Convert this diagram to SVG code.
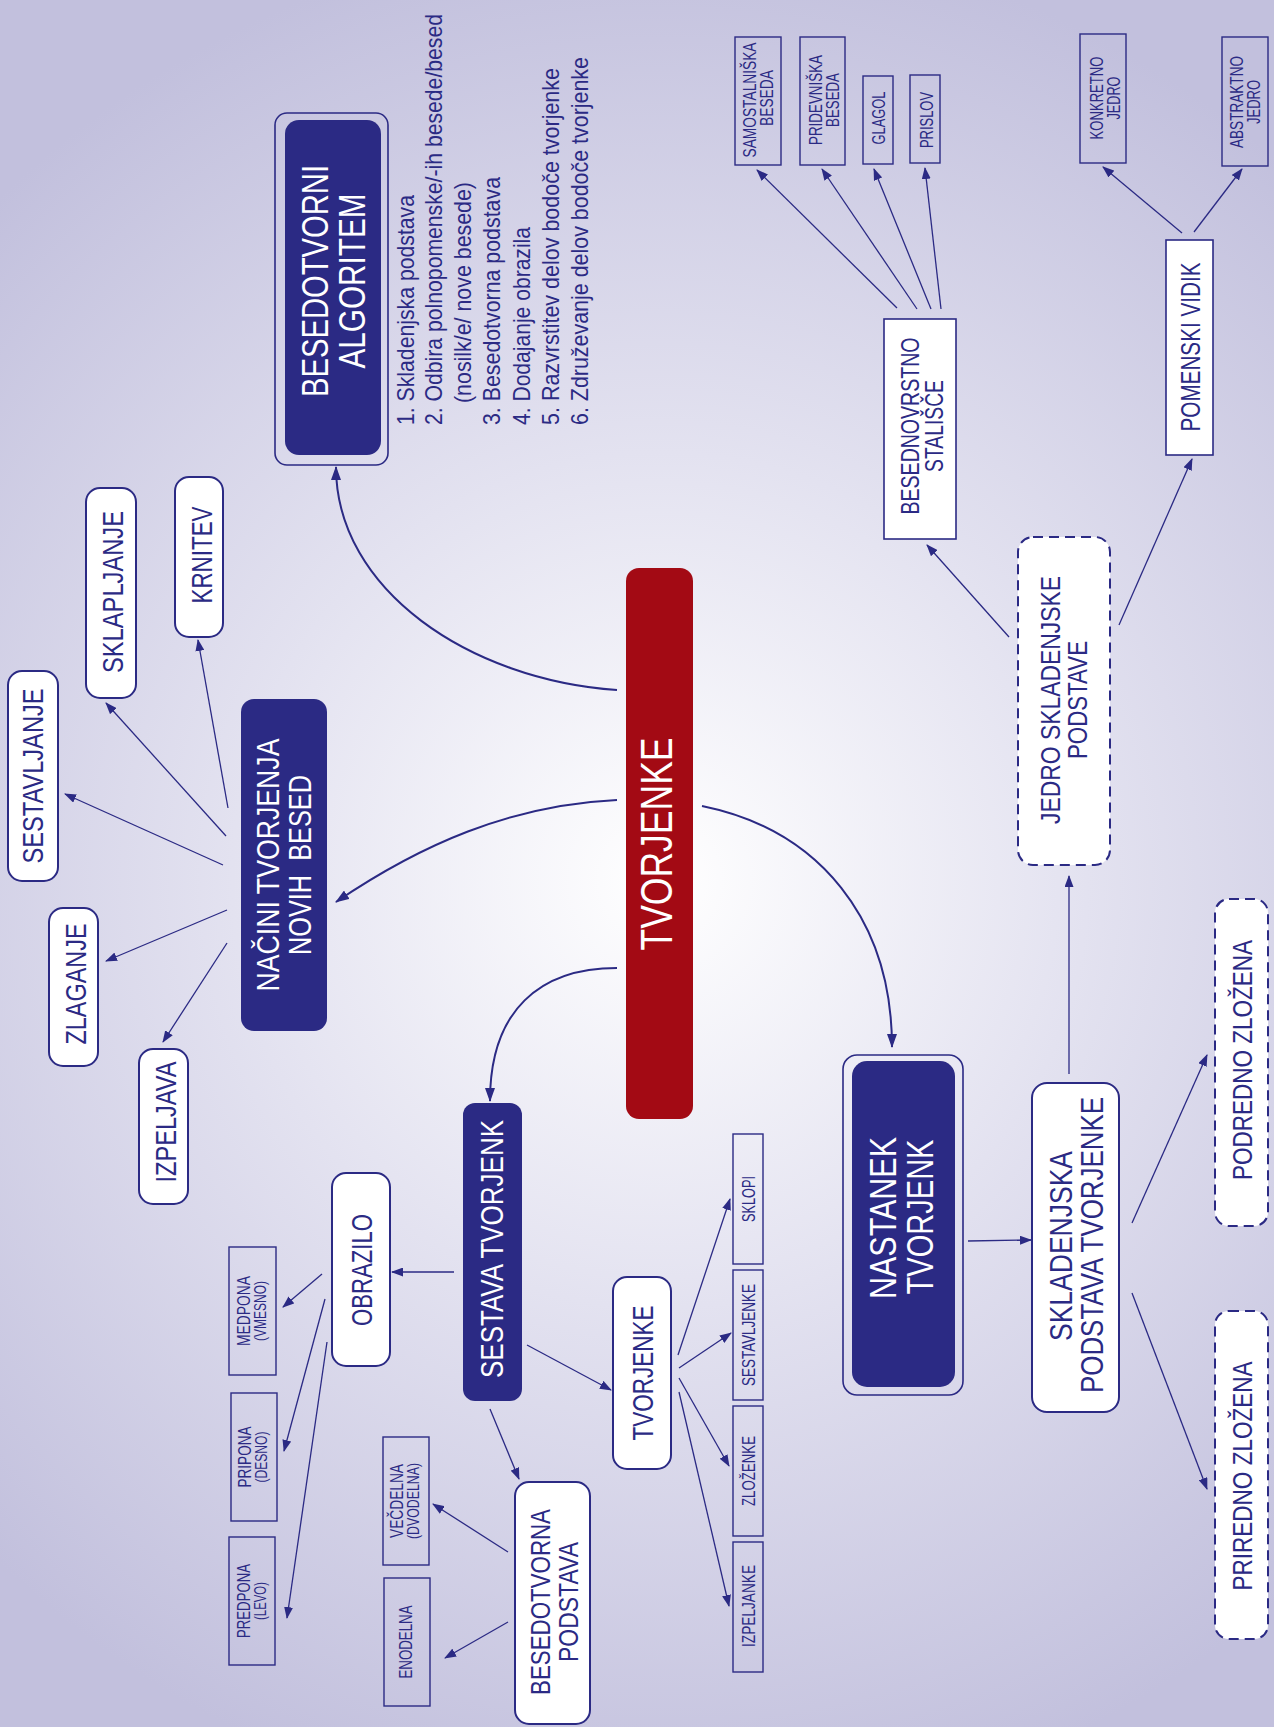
<svg xmlns="http://www.w3.org/2000/svg" width="1274" height="1727" viewBox="0 0 1274 1727">
<defs>
<radialGradient id="bg" gradientUnits="userSpaceOnUse" cx="660" cy="880" r="950">
<stop offset="0" stop-color="#ffffff"/>
<stop offset="0.45" stop-color="#e3e2f0"/>
<stop offset="1" stop-color="#c2c0dd"/>
</radialGradient>
<marker id="ah" markerUnits="userSpaceOnUse" markerWidth="14" markerHeight="10" refX="13" refY="5" orient="auto" viewBox="0 0 14 10">
<path d="M0,0 L14,5 L0,10 z" fill="#2b2a84"/>
</marker>
<marker id="as" markerUnits="userSpaceOnUse" markerWidth="12" markerHeight="9" refX="11" refY="4.5" orient="auto" viewBox="0 0 12 9">
<path d="M0,0 L12,4.5 L0,9 z" fill="#2b2a84"/>
</marker>
<style>
text{font-family:"Liberation Sans",Arial,sans-serif;fill:#2b2a84;text-anchor:middle}
.w{fill:#ffffff}
.ls text{text-anchor:start}
.navy{fill:#2b2a84}
.wb{fill:#ffffff;stroke:#2b2a84;stroke-width:2}
.sb{fill:none;stroke:#2b2a84;stroke-width:1.4}
.db{fill:#ffffff;stroke:#2b2a84;stroke-width:2;stroke-dasharray:10 6}
.ol{fill:none;stroke:#2b2a84;stroke-width:1.6}
.cm{fill:none;stroke:#2b2a84;stroke-width:2;marker-end:url(#ah)}
.cs{fill:none;stroke:#2b2a84;stroke-width:1.3;marker-end:url(#as)}
</style>
</defs>
<rect x="0" y="0" width="1274" height="1727" fill="url(#bg)"/>

<g id="connectors">
<path class="cm" d="M617,690 C470,680 336,590 336,467"/>
<path class="cm" d="M617,800 C510,805 420,845 336,902"/>
<path class="cm" d="M617,968 C540,968 490,1010 490,1101"/>
<path class="cm" d="M702,806 C820,830 892,920 892,1047"/>
<path class="cs" d="M228,808 L198,640"/>
<path class="cs" d="M226,836 L106,703"/>
<path class="cs" d="M223,865 L65,794"/>
<path class="cs" d="M227,910 L106,961"/>
<path class="cs" d="M227,943 L163,1042"/>
<path class="cs" d="M454,1272 L392,1272"/>
<path class="cs" d="M527,1345 L611,1390"/>
<path class="cs" d="M490,1409 L519,1479"/>
<path class="cs" d="M322,1274 L283,1307"/>
<path class="cs" d="M325,1299 L284,1451"/>
<path class="cs" d="M327,1342 L287,1618"/>
<path class="cs" d="M508,1552 L433,1504"/>
<path class="cs" d="M508,1622 L445,1658"/>
<path class="cs" d="M678,1355 L730,1199"/>
<path class="cs" d="M679,1368 L731,1333"/>
<path class="cs" d="M679,1378 L729,1466"/>
<path class="cs" d="M679,1392 L729,1606"/>
<path class="cs" d="M968,1241 L1031,1240"/>
<path class="cs" d="M1069,1074 L1069,876"/>
<path class="cs" d="M1132,1223 L1207,1055"/>
<path class="cs" d="M1132,1293 L1207,1489"/>
<path class="cs" d="M1009,637 L927,545"/>
<path class="cs" d="M1119,625 L1192,459"/>
<path class="cs" d="M897,308 L757,170"/>
<path class="cs" d="M917,309 L822,169"/>
<path class="cs" d="M931,309 L874,169"/>
<path class="cs" d="M941,309 L925,168"/>
<path class="cs" d="M1182,233 L1103,167"/>
<path class="cs" d="M1194,232 L1242,169"/>
</g>

<g id="n-tvorjenke">
<rect x="626" y="568" width="67" height="551" rx="13" fill="#a30a14"/>
<text class="w" transform="translate(672,844) rotate(-90)" font-size="45" textLength="213" lengthAdjust="spacingAndGlyphs">TVORJENKE</text>
</g>

<g id="n-algoritem">
<rect class="ol" x="275" y="113" width="113" height="352" rx="12"/>
<rect class="navy" x="285" y="120" width="96" height="335" rx="14"/>
<text class="w" transform="translate(328,281) rotate(-90)" font-size="37" textLength="232" lengthAdjust="spacingAndGlyphs">BESEDOTVORNI</text>
<text class="w" transform="translate(365,281) rotate(-90)" font-size="37" textLength="175" lengthAdjust="spacingAndGlyphs">ALGORITEM</text>
</g>

<g id="n-algoritem-list" class="ls">
<text transform="translate(414,425) rotate(-90)" font-size="24" textLength="230" lengthAdjust="spacingAndGlyphs">1. Skladenjska podstava</text>
<text transform="translate(442,425) rotate(-90)" font-size="24" textLength="411" lengthAdjust="spacingAndGlyphs">2. Odbira polnopomenske/-ih besede/besed</text>
<text transform="translate(471,403) rotate(-90)" font-size="24" textLength="221" lengthAdjust="spacingAndGlyphs">(nosilk/e/ nove besede)</text>
<text transform="translate(500,425) rotate(-90)" font-size="24" textLength="248" lengthAdjust="spacingAndGlyphs">3. Besedotvorna podstava</text>
<text transform="translate(530,425) rotate(-90)" font-size="24" textLength="198" lengthAdjust="spacingAndGlyphs">4. Dodajanje obrazila</text>
<text transform="translate(559,425) rotate(-90)" font-size="24" textLength="357" lengthAdjust="spacingAndGlyphs">5. Razvrstitev delov bodoče tvorjenke</text>
<text transform="translate(588,425) rotate(-90)" font-size="24" textLength="368" lengthAdjust="spacingAndGlyphs">6. Združevanje delov bodoče tvorjenke</text>
</g>

<g id="n-nacini">
<rect class="navy" x="241" y="699" width="86" height="332" rx="13"/>
<text class="w" transform="translate(279,865) rotate(-90)" font-size="32" textLength="253" lengthAdjust="spacingAndGlyphs">NAČINI TVORJENJA</text>
<text class="w" transform="translate(311,865) rotate(-90)" font-size="32" textLength="180" lengthAdjust="spacingAndGlyphs" xml:space="preserve">NOVIH  BESED</text>
</g>

<g id="n-krnitev">
<rect class="wb" x="175" y="477" width="48" height="160" rx="14"/>
<text transform="translate(212,555) rotate(-90)" font-size="29" textLength="97" lengthAdjust="spacingAndGlyphs">KRNITEV</text>
</g>
<g id="n-sklapljanje">
<rect class="wb" x="86" y="488" width="50" height="210" rx="14"/>
<text transform="translate(123,592) rotate(-90)" font-size="29" textLength="162" lengthAdjust="spacingAndGlyphs">SKLAPLJANJE</text>
</g>
<g id="n-sestavljanje">
<rect class="wb" x="8" y="671" width="50" height="210" rx="14"/>
<text transform="translate(43,776) rotate(-90)" font-size="29" textLength="175" lengthAdjust="spacingAndGlyphs">SESTAVLJANJE</text>
</g>
<g id="n-zlaganje">
<rect class="wb" x="49" y="908" width="49" height="158" rx="14"/>
<text transform="translate(86,984) rotate(-90)" font-size="29" textLength="121" lengthAdjust="spacingAndGlyphs">ZLAGANJE</text>
</g>
<g id="n-izpeljava">
<rect class="wb" x="139" y="1049" width="49" height="155" rx="14"/>
<text transform="translate(176,1122) rotate(-90)" font-size="29" textLength="121" lengthAdjust="spacingAndGlyphs">IZPELJAVA</text>
</g>

<g id="n-sestava">
<rect class="navy" x="463" y="1103" width="59" height="298" rx="12"/>
<text class="w" transform="translate(503,1249) rotate(-90)" font-size="32" textLength="258" lengthAdjust="spacingAndGlyphs">SESTAVA TVORJENK</text>
</g>

<g id="n-obrazilo">
<rect class="wb" x="332" y="1173" width="58" height="193" rx="14"/>
<text transform="translate(372,1270) rotate(-90)" font-size="30" textLength="112" lengthAdjust="spacingAndGlyphs">OBRAZILO</text>
</g>
<g id="n-medpona">
<rect class="sb" x="229" y="1247" width="47" height="128"/>
<text transform="translate(250,1311) rotate(-90)" font-size="18" textLength="70" lengthAdjust="spacingAndGlyphs">MEDPONA</text>
<text transform="translate(266,1311) rotate(-90)" font-size="17" textLength="60" lengthAdjust="spacingAndGlyphs">(VMESNO)</text>
</g>
<g id="n-pripona">
<rect class="sb" x="231" y="1393" width="46" height="128"/>
<text transform="translate(251,1457) rotate(-90)" font-size="18" textLength="61" lengthAdjust="spacingAndGlyphs">PRIPONA</text>
<text transform="translate(267,1457) rotate(-90)" font-size="17" textLength="51" lengthAdjust="spacingAndGlyphs">(DESNO)</text>
</g>
<g id="n-predpona">
<rect class="sb" x="229" y="1537" width="46" height="128"/>
<text transform="translate(250,1601) rotate(-90)" font-size="18" textLength="74" lengthAdjust="spacingAndGlyphs">PREDPONA</text>
<text transform="translate(266,1601) rotate(-90)" font-size="17" textLength="38" lengthAdjust="spacingAndGlyphs">(LEVO)</text>
</g>

<g id="n-besedotvorna">
<rect class="wb" x="515" y="1482" width="75" height="242" rx="14"/>
<text transform="translate(550,1602) rotate(-90)" font-size="28" textLength="186" lengthAdjust="spacingAndGlyphs">BESEDOTVORNA</text>
<text transform="translate(578,1602) rotate(-90)" font-size="28" textLength="120" lengthAdjust="spacingAndGlyphs">PODSTAVA</text>
</g>
<g id="n-vecdelna">
<rect class="sb" x="383" y="1437" width="46" height="128"/>
<text transform="translate(403,1501) rotate(-90)" font-size="18" textLength="74" lengthAdjust="spacingAndGlyphs">VEČDELNA</text>
<text transform="translate(419,1501) rotate(-90)" font-size="17" textLength="76" lengthAdjust="spacingAndGlyphs">(DVODELNA)</text>
</g>
<g id="n-enodelna">
<rect class="sb" x="384" y="1578" width="46" height="128"/>
<text transform="translate(412,1642) rotate(-90)" font-size="18" textLength="73" lengthAdjust="spacingAndGlyphs">ENODELNA</text>
</g>

<g id="n-tvorjenke2">
<rect class="wb" x="613" y="1277" width="58" height="192" rx="14"/>
<text transform="translate(653,1373) rotate(-90)" font-size="29" textLength="135" lengthAdjust="spacingAndGlyphs">TVORJENKE</text>
</g>
<g id="n-sklopi">
<rect class="sb" x="733" y="1134" width="30" height="130"/>
<text transform="translate(755,1199) rotate(-90)" font-size="18" textLength="46" lengthAdjust="spacingAndGlyphs">SKLOPI</text>
</g>
<g id="n-sestavljenke">
<rect class="sb" x="733" y="1270" width="30" height="130"/>
<text transform="translate(755,1335) rotate(-90)" font-size="18" textLength="102" lengthAdjust="spacingAndGlyphs">SESTAVLJENKE</text>
</g>
<g id="n-zlozenke">
<rect class="sb" x="733" y="1406" width="30" height="130"/>
<text transform="translate(755,1471) rotate(-90)" font-size="18" textLength="70" lengthAdjust="spacingAndGlyphs">ZLOŽENKE</text>
</g>
<g id="n-izpeljanke">
<rect class="sb" x="733" y="1542" width="30" height="130"/>
<text transform="translate(755,1606) rotate(-90)" font-size="18" textLength="82" lengthAdjust="spacingAndGlyphs">IZPELJANKE</text>
</g>

<g id="n-nastanek">
<rect class="ol" x="843" y="1055" width="120" height="340" rx="14"/>
<rect class="navy" x="852" y="1061" width="103" height="326" rx="15"/>
<text class="w" transform="translate(896,1218) rotate(-90)" font-size="37" textLength="162" lengthAdjust="spacingAndGlyphs">NASTANEK</text>
<text class="w" transform="translate(933,1217) rotate(-90)" font-size="37" textLength="155" lengthAdjust="spacingAndGlyphs">TVORJENK</text>
</g>

<g id="n-skladenjska">
<rect class="wb" x="1032" y="1083" width="87" height="329" rx="15"/>
<text transform="translate(1072,1246) rotate(-90)" font-size="32" textLength="190" lengthAdjust="spacingAndGlyphs">SKLADENJSKA</text>
<text transform="translate(1103,1245) rotate(-90)" font-size="32" textLength="296" lengthAdjust="spacingAndGlyphs">PODSTAVA TVORJENKE</text>
</g>

<g id="n-podredno">
<rect class="db" x="1215" y="899" width="53" height="327" rx="14"/>
<text transform="translate(1252,1060) rotate(-90)" font-size="28" textLength="240" lengthAdjust="spacingAndGlyphs">PODREDNO ZLOŽENA</text>
</g>
<g id="n-priredno">
<rect class="db" x="1215" y="1311" width="53" height="328" rx="14"/>
<text transform="translate(1252,1476) rotate(-90)" font-size="28" textLength="229" lengthAdjust="spacingAndGlyphs">PRIREDNO ZLOŽENA</text>
</g>

<g id="n-jedro">
<rect class="db" x="1018" y="537" width="92" height="328" rx="15"/>
<text transform="translate(1060,700) rotate(-90)" font-size="28" textLength="248" lengthAdjust="spacingAndGlyphs">JEDRO SKLADENJSKE</text>
<text transform="translate(1087,700) rotate(-90)" font-size="28" textLength="118" lengthAdjust="spacingAndGlyphs">PODSTAVE</text>
</g>

<g id="n-besednovrstno">
<rect class="wb" x="884" y="319" width="72" height="220" style="stroke-width:1.6"/>
<text transform="translate(919,426) rotate(-90)" font-size="26" textLength="177" lengthAdjust="spacingAndGlyphs">BESEDNOVRSTNO</text>
<text transform="translate(943,426) rotate(-90)" font-size="26" textLength="92" lengthAdjust="spacingAndGlyphs">STALIŠČE</text>
</g>

<g id="n-pomenski">
<rect class="wb" x="1166" y="240" width="47" height="215" style="stroke-width:1.6"/>
<text transform="translate(1200,347) rotate(-90)" font-size="27" textLength="169" lengthAdjust="spacingAndGlyphs">POMENSKI VIDIK</text>
</g>

<g id="n-samostalniska">
<rect class="sb" x="735" y="37" width="46" height="128"/>
<text transform="translate(756,100) rotate(-90)" font-size="19" textLength="115" lengthAdjust="spacingAndGlyphs">SAMOSTALNIŠKA</text>
<text transform="translate(773,98) rotate(-90)" font-size="19" textLength="56" lengthAdjust="spacingAndGlyphs">BESEDA</text>
</g>
<g id="n-pridevniska">
<rect class="sb" x="800" y="37" width="45" height="128"/>
<text transform="translate(822,100) rotate(-90)" font-size="19" textLength="90" lengthAdjust="spacingAndGlyphs">PRIDEVNIŠKA</text>
<text transform="translate(839,100) rotate(-90)" font-size="19" textLength="54" lengthAdjust="spacingAndGlyphs">BESEDA</text>
</g>
<g id="n-glagol">
<rect class="sb" x="863" y="76" width="30" height="88"/>
<text transform="translate(885,118) rotate(-90)" font-size="19" textLength="53" lengthAdjust="spacingAndGlyphs">GLAGOL</text>
</g>
<g id="n-prislov">
<rect class="sb" x="910" y="75" width="30" height="88"/>
<text transform="translate(933,120) rotate(-90)" font-size="19" textLength="56" lengthAdjust="spacingAndGlyphs">PRISLOV</text>
</g>
<g id="n-konkretno">
<rect class="sb" x="1080" y="34" width="46" height="129"/>
<text transform="translate(1103,98) rotate(-90)" font-size="19" textLength="83" lengthAdjust="spacingAndGlyphs">KONKRETNO</text>
<text transform="translate(1120,98) rotate(-90)" font-size="19" textLength="43" lengthAdjust="spacingAndGlyphs">JEDRO</text>
</g>
<g id="n-abstraktno">
<rect class="sb" x="1222" y="37" width="46" height="129"/>
<text transform="translate(1243,102) rotate(-90)" font-size="19" textLength="92" lengthAdjust="spacingAndGlyphs">ABSTRAKTNO</text>
<text transform="translate(1260,102) rotate(-90)" font-size="19" textLength="44" lengthAdjust="spacingAndGlyphs">JEDRO</text>
</g>
</svg>
